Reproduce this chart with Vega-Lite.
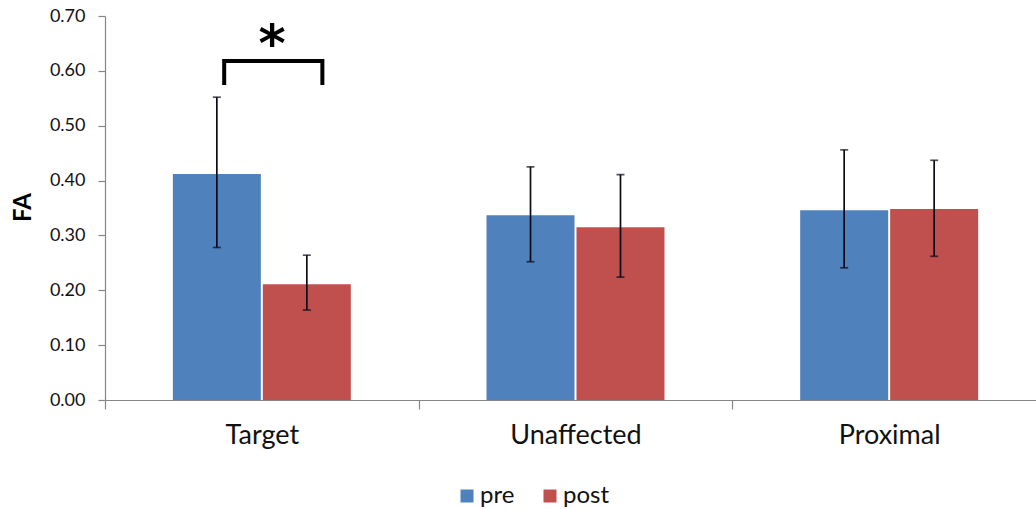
{
  "$schema": "https://vega.github.io/schema/vega-lite/v6.json",
  "width": 941,
  "height": 384,
  "autosize": {"type": "none"},
  "padding": {"left": 105, "top": 16, "right": 0, "bottom": 109},
  "background": "white",
  "config": {"view": {"stroke": null}, "font": "Lato"},
  "layer": [
    {
      "data": {
        "values": [
          {"group": "Target", "time": "pre", "FA": 0.412, "lo": 0.278, "hi": 0.552},
          {"group": "Target", "time": "post", "FA": 0.211, "lo": 0.164, "hi": 0.264},
          {"group": "Unaffected", "time": "pre", "FA": 0.337, "lo": 0.252, "hi": 0.425},
          {"group": "Unaffected", "time": "post", "FA": 0.315, "lo": 0.224, "hi": 0.411},
          {"group": "Proximal", "time": "pre", "FA": 0.346, "lo": 0.241, "hi": 0.456},
          {"group": "Proximal", "time": "post", "FA": 0.348, "lo": 0.262, "hi": 0.437}
        ]
      },
      "encoding": {
        "x": {
          "field": "group", "type": "nominal",
          "sort": ["Target", "Unaffected", "Proximal"],
          "scale": {"paddingInner": 0, "paddingOuter": 0},
          "axis": {
            "title": null, "labelAngle": 0, "labelFontSize": 27, "labelColor": "#111111",
            "labelPadding": 13, "tickBand": "extent", "tickSize": 9,
            "domainColor": "#868686", "tickColor": "#868686", "domainWidth": 1.2, "tickWidth": 1.2
          }
        },
        "xOffset": {
          "field": "time", "type": "nominal", "sort": ["pre", "post"],
          "scale": {"paddingInner": 0.022, "paddingOuter": 0.754}
        }
      },
      "layer": [
        {
          "mark": {"type": "bar"},
          "encoding": {
            "y": {
              "field": "FA", "type": "quantitative",
              "scale": {"domain": [0, 0.7], "nice": false},
              "axis": {
                "title": "FA", "titleFontSize": 24, "titleFontWeight": "bold", "titleColor": "#000000",
                "titleX": -82, "titleY": 191, "titleAngle": -90, "titleBaseline": "middle", "titleAlign": "center",
                "values": [0, 0.1, 0.2, 0.3, 0.4, 0.5, 0.6, 0.7], "format": ".2f",
                "labelFontSize": 18, "labelColor": "#111111", "labelPadding": 13,
                "tickSize": 7, "grid": false,
                "domainColor": "#868686", "tickColor": "#868686", "domainWidth": 1.2, "tickWidth": 1.2
              }
            },
            "color": {
              "field": "time", "type": "nominal",
              "scale": {"domain": ["pre", "post"], "range": ["#4F81BD", "#C0504D"]},
              "legend": {
                "title": null, "orient": "none", "direction": "horizontal",
                "legendX": 350, "legendY": 468,
                "symbolType": "square", "symbolSize": 169, "symbolStrokeWidth": 0,
                "labelFontSize": 24, "labelColor": "#111111", "labelOffset": 1, "columnPadding": 23
              }
            }
          }
        },
        {
          "mark": {"type": "rule", "color": "#0a0a1a", "strokeWidth": 1.7},
          "encoding": {
            "y": {"field": "lo", "type": "quantitative"},
            "y2": {"field": "hi"}
          }
        },
        {
          "mark": {"type": "tick", "color": "#0a0a1a", "thickness": 1.7, "size": 8},
          "encoding": {"y": {"field": "lo", "type": "quantitative"}}
        },
        {
          "mark": {"type": "tick", "color": "#0a0a1a", "thickness": 1.7, "size": 8},
          "encoding": {"y": {"field": "hi", "type": "quantitative"}}
        }
      ]
    },
    {
      "data": {
        "values": [
          {"bx": 0.380, "by": 0.574, "ord": 1},
          {"bx": 0.380, "by": 0.618, "ord": 2},
          {"bx": 0.693, "by": 0.618, "ord": 3},
          {"bx": 0.693, "by": 0.574, "ord": 4}
        ]
      },
      "mark": {"type": "line", "color": "#000000", "strokeWidth": 4, "strokeJoin": "miter", "strokeCap": "butt"},
      "encoding": {
        "x": {"field": "bx", "type": "quantitative", "scale": {"domain": [0, 3], "nice": false, "zero": false}, "axis": null},
        "y": {"field": "by", "type": "quantitative", "scale": {"domain": [0, 0.7], "nice": false}, "axis": null},
        "order": {"field": "ord"}
      }
    },
    {
      "data": {"values": [{"sx": 0.533, "sy": 0.669, "label": "*"}]},
      "mark": {"type": "text", "fontSize": 52, "fontWeight": "bold", "font": "DejaVu Sans", "baseline": "middle", "dy": 12, "color": "#000000"},
      "encoding": {
        "x": {"field": "sx", "type": "quantitative", "scale": {"domain": [0, 3], "nice": false, "zero": false}, "axis": null},
        "y": {"field": "sy", "type": "quantitative", "scale": {"domain": [0, 0.7], "nice": false}, "axis": null},
        "text": {"field": "label"}
      }
    }
  ],
  "resolve": {"scale": {"x": "independent", "y": "independent"}}
}
